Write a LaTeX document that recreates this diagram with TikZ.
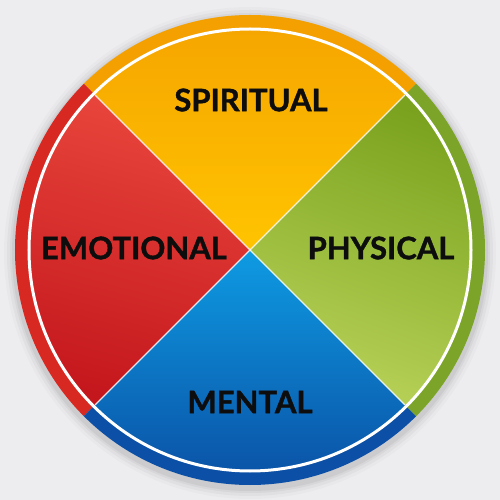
\documentclass[tikz,border=0pt]{standalone}
\usepackage{fontspec}
\setmainfont{Lato}[BoldFeatures={FakeBold=1.2}]
\definecolor{bg}{HTML}{EDECEF}
\definecolor{ringO}{HTML}{F3A000}
\definecolor{ringG}{HTML}{7BA428}
\definecolor{ringB}{HTML}{0B4FA6}
\definecolor{ringR}{HTML}{D82822}
\definecolor{oTop}{HTML}{F5A300}
\definecolor{oBot}{HTML}{FFC400}
\definecolor{gTop}{HTML}{7AA21E}
\definecolor{gBot}{HTML}{B8D258}
\definecolor{bTop}{HTML}{0E9BE2}
\definecolor{bBot}{HTML}{0A4EA3}
\definecolor{rTop}{HTML}{E9463C}
\definecolor{rBot}{HTML}{C4171D}
\definecolor{txt}{HTML}{0D0D0D}
\tikzset{
  label/.style={font=\fontsize{31}{34}\selectfont\bfseries, text=txt, inner sep=0pt},
  sep/.style={draw=white, line width=1.3pt, opacity=0.85}
}
\begin{document}
\begin{tikzpicture}[x=1pt,y=1pt]
\useasboundingbox (-250,-250) rectangle (250,250);
\fill[bg] (-250,-250) rectangle (250,250);
% shadow
\foreach \r/\o in {246/0.02,243/0.03,240/0.04,238/0.05}{
  \fill[black,opacity=\o] (0,-3) circle (\r);
}
% outer ring
\fill[ringO] (0,0) -- (45:235) arc (45:135:235) -- cycle;
\fill[ringR] (0,0) -- (135:235) arc (135:225:235) -- cycle;
\fill[ringB] (0,0) -- (225:235) arc (225:315:235) -- cycle;
\fill[ringG] (0,0) -- (-45:235) arc (-45:45:235) -- cycle;
% inner quadrants
\shade[top color=oTop, bottom color=oBot] (0,0) -- (45:220) arc (45:135:220) -- cycle;
\shade[shading=axis, top color=rTop, bottom color=rBot, shading angle=-15] (0,0) -- (135:220) arc (135:225:220) -- cycle;
\shade[top color=bTop, bottom color=bBot] (0,0) -- (225:220) arc (225:315:220) -- cycle;
\shade[shading=axis, top color=gTop, bottom color=gBot, shading angle=-20] (0,0) -- (-45:220) arc (-45:45:220) -- cycle;
% separators
\coordinate (c) at (0,0);
\coordinate (ne) at (45:219);
\coordinate (nw) at (135:219);
\coordinate (sw) at (225:219);
\coordinate (se) at (315:219);
\draw[sep] (ne) -- (sw);
\draw[sep] (nw) -- (se);
% white circle
\draw[white, line width=3pt] (c) circle (221);
% labels
\node[label] (spiritual) at (1,150) {SPIRITUAL};
\node[label] (emotional) at (-116,2) {EMOTIONAL};
\node[label] (physical) at (131,2) {PHYSICAL};
\node[label] (mental) at (0,-152) {MENTAL};
\end{tikzpicture}
\end{document}
